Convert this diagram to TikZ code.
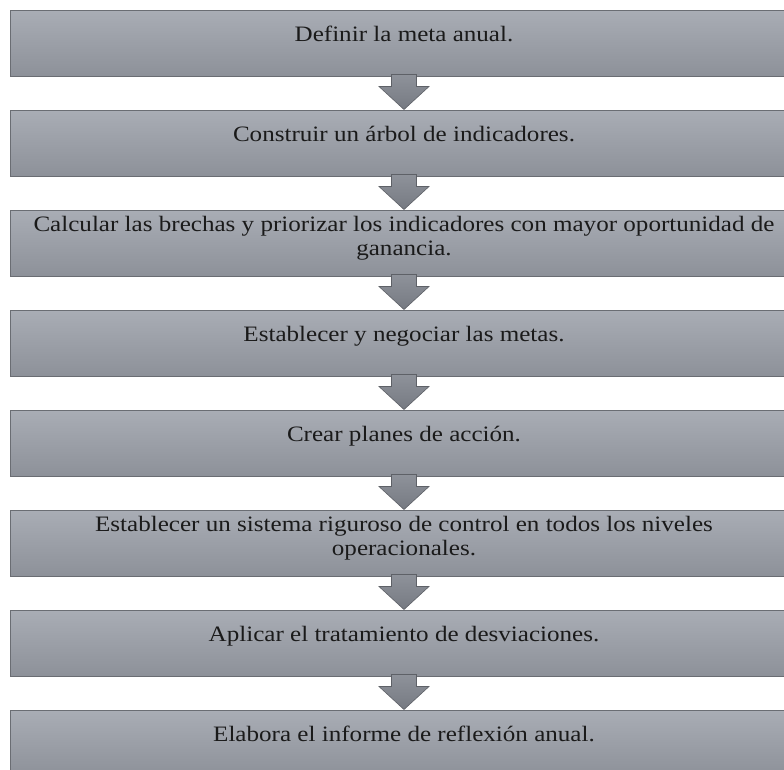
\documentclass[tikz,border=0pt]{standalone}
\usepackage{fontspec}
\setmainfont[FakeStretch=1.14]{Liberation Serif}
\usetikzlibrary{calc}
\definecolor{boxtop}{HTML}{A9ADB5}
\definecolor{boxbot}{HTML}{8D9199}
\definecolor{boxline}{HTML}{6A6D73}
\definecolor{arrtop}{HTML}{8E929A}
\definecolor{arrbot}{HTML}{767A82}
\definecolor{arrline}{HTML}{5E6167}
\definecolor{txt}{HTML}{1A1A1A}
\newcommand{\steplines}[1]{\parbox[t]{780pt}{\centering #1}}
\tikzset{
  stepbox/.style={draw=boxline, line width=1pt, top color=boxtop, bottom color=boxbot,
    minimum width=788pt, minimum height=66pt, inner sep=0pt},
  steptext/.style={anchor=base, inner sep=0pt, text=txt,
    font=\fontsize{22}{24}\selectfont},
  arrowshape/.style={draw=arrline, line width=0.6pt, top color=arrtop, bottom color=arrbot}
}
\begin{document}
\begin{tikzpicture}[x=1pt,y=-1pt]
\clip (0,0) rectangle (784,769);
\fill[white] (0,0) rectangle (784,769);
\node[stepbox] (b1) at (404,43) {};
\node[stepbox] (b2) at (404,143) {};
\node[stepbox] (b3) at (404,243) {};
\node[stepbox] (b4) at (404,343) {};
\node[stepbox] (b5) at (404,443) {};
\node[stepbox] (b6) at (404,543) {};
\node[stepbox] (b7) at (404,643) {};
\node[stepbox] (b8) at (404,743) {};
\node[steptext] (t1) at (404,41) {\steplines{Definir la meta anual.}};
\node[steptext] (t2) at (404,141) {\steplines{Construir un árbol de indicadores.}};
\node[steptext] (t3) at (404,231) {\steplines{Calcular las brechas y priorizar los indicadores con mayor oportunidad de\\ganancia.}};
\node[steptext] (t4) at (404,341) {\steplines{Establecer y negociar las metas.}};
\node[steptext] (t5) at (404,441) {\steplines{Crear planes de acción.}};
\node[steptext] (t6) at (404,531) {\steplines{Establecer un sistema riguroso de control en todos los niveles\\operacionales.}};
\node[steptext] (t7) at (404,641) {\steplines{Aplicar el tratamiento de desviaciones.}};
\node[steptext] (t8) at (404,741) {\steplines{Elabora el informe de reflexión anual.}};
\foreach \a/\b in {b1/b2,b2/b3,b3/b4,b4/b5,b5/b6,b6/b7,b7/b8}{
  \draw[arrowshape] ($(\a.south)+(-12.5,-2)$) -- ($(\a.south)+(-12.5,10)$) -- ($(\a.south)+(-25,10)$)
    -- (\b.north) -- ($(\a.south)+(25,10)$) -- ($(\a.south)+(12.5,10)$) -- ($(\a.south)+(12.5,-2)$) -- cycle;
}
\end{tikzpicture}
\end{document}
